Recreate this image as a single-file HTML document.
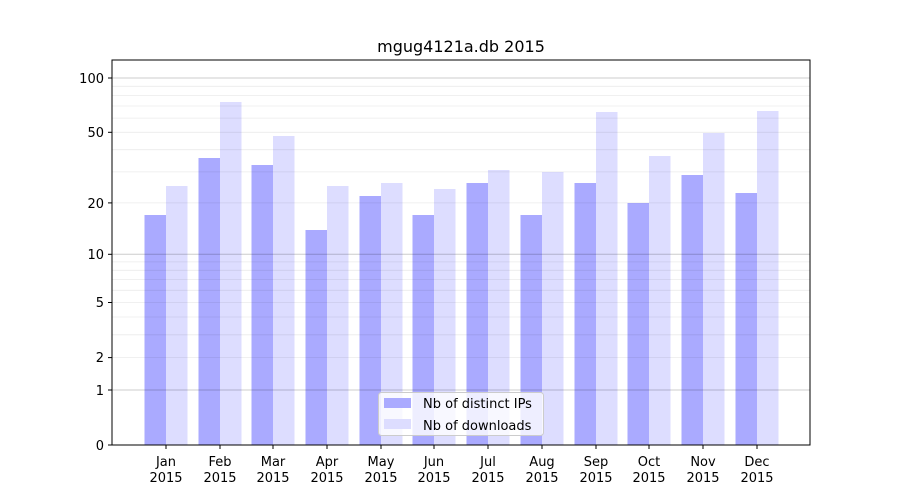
<!DOCTYPE html>
<html><head><meta charset="utf-8"><style>
html,body{margin:0;padding:0;background:#fff}
svg{display:block;font-family:"DejaVu Sans","Liberation Sans",sans-serif}
</style></head><body>
<svg width="900" height="500" viewBox="0 0 900 500">
<rect width="900" height="500" fill="#fff"/>
<g>
<rect x="144.5" y="215" width="21.5" height="230" fill="#aaaaff"/><rect x="166" y="186" width="21.5" height="259" fill="#ddddff"/>
<rect x="198.5" y="158" width="21.5" height="287" fill="#aaaaff"/><rect x="220" y="102" width="21.5" height="343" fill="#ddddff"/>
<rect x="251.5" y="165" width="21.5" height="280" fill="#aaaaff"/><rect x="273" y="136" width="21.5" height="309" fill="#ddddff"/>
<rect x="305.5" y="230" width="21.5" height="215" fill="#aaaaff"/><rect x="327" y="186" width="21.5" height="259" fill="#ddddff"/>
<rect x="359.5" y="196" width="21.5" height="249" fill="#aaaaff"/><rect x="381" y="183" width="21.5" height="262" fill="#ddddff"/>
<rect x="412.5" y="215" width="21.5" height="230" fill="#aaaaff"/><rect x="434" y="189" width="21.5" height="256" fill="#ddddff"/>
<rect x="466.5" y="183" width="21.5" height="262" fill="#aaaaff"/><rect x="488" y="170" width="21.5" height="275" fill="#ddddff"/>
<rect x="520.5" y="215" width="21.5" height="230" fill="#aaaaff"/><rect x="542" y="172" width="21.5" height="273" fill="#ddddff"/>
<rect x="574.5" y="183" width="21.5" height="262" fill="#aaaaff"/><rect x="596" y="112" width="21.5" height="333" fill="#ddddff"/>
<rect x="627.5" y="203" width="21.5" height="242" fill="#aaaaff"/><rect x="649" y="156" width="21.5" height="289" fill="#ddddff"/>
<rect x="681.5" y="175" width="21.5" height="270" fill="#aaaaff"/><rect x="703" y="133" width="21.5" height="312" fill="#ddddff"/>
<rect x="735.5" y="193" width="21.5" height="252" fill="#aaaaff"/><rect x="757" y="111" width="21.5" height="334" fill="#ddddff"/>
</g>
<g stroke="#000" stroke-opacity="0.08" stroke-width="0.8">
<line x1="112" x2="810" y1="334.8" y2="334.8"/><line x1="112" x2="810" y1="317" y2="317"/>
<line x1="112" x2="810" y1="302.5" y2="302.5"/><line x1="112" x2="810" y1="290.3" y2="290.3"/>
<line x1="112" x2="810" y1="279.6" y2="279.6"/><line x1="112" x2="810" y1="270.3" y2="270.3"/>
<line x1="112" x2="810" y1="261.9" y2="261.9"/><line x1="112" x2="810" y1="357.6" y2="357.6"/>
<line x1="112" x2="810" y1="202.9" y2="202.9"/><line x1="112" x2="810" y1="171.9" y2="171.9"/>
<line x1="112" x2="810" y1="149.7" y2="149.7"/><line x1="112" x2="810" y1="132.3" y2="132.3"/>
<line x1="112" x2="810" y1="118.1" y2="118.1"/><line x1="112" x2="810" y1="106" y2="106"/>
<line x1="112" x2="810" y1="95.6" y2="95.6"/><line x1="112" x2="810" y1="86.3" y2="86.3"/>
</g>
<g stroke="#000" stroke-opacity="0.2" stroke-width="1">
<line x1="112" x2="810" y1="390" y2="390"/><line x1="112" x2="810" y1="254.3" y2="254.3"/><line x1="112" x2="810" y1="78" y2="78"/>
</g>
<rect x="112" y="60" width="698" height="385" fill="none" stroke="#000" stroke-width="1"/>
<g stroke="#000" stroke-width="1">
<line x1="108" x2="112" y1="445" y2="445"/><line x1="108" x2="112" y1="390" y2="390"/>
<line x1="108" x2="112" y1="357.6" y2="357.6"/><line x1="108" x2="112" y1="302.5" y2="302.5"/>
<line x1="108" x2="112" y1="254.3" y2="254.3"/><line x1="108" x2="112" y1="202.9" y2="202.9"/>
<line x1="108" x2="112" y1="132.3" y2="132.3"/><line x1="108" x2="112" y1="78" y2="78"/>
</g>
<g font-size="13" text-anchor="end" fill="#000">
<text x="104" y="450">0</text><text x="104" y="395">1</text><text x="104" y="362">2</text>
<text x="104" y="307">5</text><text x="104" y="259">10</text><text x="104" y="208">20</text>
<text x="104" y="137">50</text><text x="104" y="83">100</text>
</g>
<g stroke="#000" stroke-width="1">
<line x1="166" x2="166" y1="445" y2="449"/><line x1="220" x2="220" y1="445" y2="449"/>
<line x1="273" x2="273" y1="445" y2="449"/><line x1="327" x2="327" y1="445" y2="449"/>
<line x1="381" x2="381" y1="445" y2="449"/><line x1="434" x2="434" y1="445" y2="449"/>
<line x1="488" x2="488" y1="445" y2="449"/><line x1="542" x2="542" y1="445" y2="449"/>
<line x1="596" x2="596" y1="445" y2="449"/><line x1="649" x2="649" y1="445" y2="449"/>
<line x1="703" x2="703" y1="445" y2="449"/><line x1="757" x2="757" y1="445" y2="449"/>
</g>
<g font-size="13" text-anchor="middle" fill="#000">
<text x="166" y="466">Jan</text><text x="166" y="482">2015</text>
<text x="220" y="466">Feb</text><text x="220" y="482">2015</text>
<text x="273" y="466">Mar</text><text x="273" y="482">2015</text>
<text x="327" y="466">Apr</text><text x="327" y="482">2015</text>
<text x="381" y="466">May</text><text x="381" y="482">2015</text>
<text x="434" y="466">Jun</text><text x="434" y="482">2015</text>
<text x="488" y="466">Jul</text><text x="488" y="482">2015</text>
<text x="542" y="466">Aug</text><text x="542" y="482">2015</text>
<text x="596" y="466">Sep</text><text x="596" y="482">2015</text>
<text x="649" y="466">Oct</text><text x="649" y="482">2015</text>
<text x="703" y="466">Nov</text><text x="703" y="482">2015</text>
<text x="757" y="466">Dec</text><text x="757" y="482">2015</text>
</g>
<text x="461" y="52" font-size="16" text-anchor="middle" fill="#000">mgug4121a.db 2015</text>
<rect x="378.5" y="392.5" width="165" height="43" rx="3" fill="#fff" fill-opacity="0.8" stroke="#cccccc"/>
<rect x="384" y="398" width="27" height="10" fill="#aaaaff"/>
<rect x="384" y="419" width="27" height="10" fill="#ddddff"/>
<g font-size="13" fill="#000">
<text x="423" y="408">Nb of distinct IPs</text>
<text x="423" y="430">Nb of downloads</text>
</g>
</svg>
</body></html>
